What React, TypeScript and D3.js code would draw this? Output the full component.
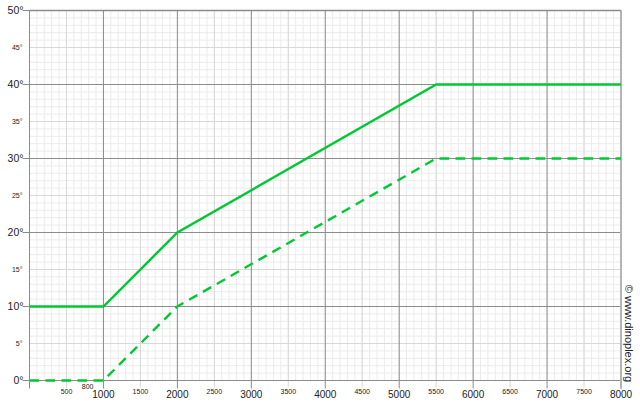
import React from 'react';
import * as d3 from 'd3';

// x values (rpm-like) and degrees for the two curves
const xPoints = [0, 1000, 2000, 5500, 8000];
const solidValues = [10, 10, 20, 40, 40];
const dashedValues = [0, 0, 10, 30, 30];

const majorXTicks = [1000, 2000, 3000, 4000, 5000, 6000, 7000, 8000];
const midXTicks = [500, 1500, 2500, 3500, 4500, 5500, 6500, 7500];
const extraXLabel = [800];
const majorYTicks = [0, 10, 20, 30, 40, 50];
const midYTicks = [5, 15, 25, 35, 45];

const W = 640;
const H = 412;
const margin = { top: 10.5, right: 19, bottom: 31.5, left: 29.5 };

const App: React.FC = () => {
  const x = d3.scaleLinear().domain([0, 8000]).range([margin.left, W - margin.right]);
  const y = d3.scaleLinear().domain([0, 50]).range([H - margin.bottom, margin.top]);

  const minorX = d3.range(0, 8001, 100);
  const minorY = d3.range(0, 51, 1);

  const line = d3.line<number>()
    .x((_, i) => x(xPoints[i]))
    .y(d => y(d));

  const green = '#00c832';
  const font = 'Helvetica, Arial, "Liberation Sans", sans-serif';
  const x0 = x(0), x1 = x(8000), yb = y(0), yt = y(50);

  return (
    <svg width={W} height={H} style={{ position: 'absolute', left: 0, top: 0, background: '#fff' }} fontFamily={font}>
      {/* minor grid */}
      {minorX.map(v => (
        <line key={'mx' + v} x1={x(v)} x2={x(v)} y1={yt} y2={yb} stroke="#ebebeb" strokeWidth={1} />
      ))}
      {minorY.map(v => (
        <line key={'my' + v} x1={x0} x2={x1} y1={y(v)} y2={y(v)} stroke="#ebebeb" strokeWidth={1} />
      ))}
      {/* mid grid */}
      {midXTicks.map(v => (
        <line key={'dx' + v} x1={x(v)} x2={x(v)} y1={yt} y2={yb + 7} stroke="#d8d8d8" strokeWidth={1} />
      ))}
      {midYTicks.map(v => (
        <line key={'dy' + v} x1={x0} x2={x1} y1={y(v)} y2={y(v)} stroke="#d8d8d8" strokeWidth={1} />
      ))}
      {/* major grid */}
      {[0, ...majorXTicks].map(v => (
        <line key={'Mx' + v} x1={x(v)} x2={x(v)} y1={yt} y2={yb + 8} stroke="#8c8c8c" strokeWidth={1} />
      ))}
      {majorYTicks.map(v => (
        <line key={'My' + v} x1={x0 - 7} x2={x1} y1={y(v)} y2={y(v)} stroke="#8c8c8c" strokeWidth={1} />
      ))}
      <line x1={x1} x2={x1} y1={yt} y2={yb + 8} stroke="#b4b4b4" strokeWidth={2} />
      <line x1={x0} x2={x1} y1={yt} y2={yt} stroke="#8c8c8c" strokeWidth={1.5} />

      {/* curves */}
      <path d={line(solidValues) || ''} fill="none" stroke={green} strokeWidth={2.4} />
      <path d={line(dashedValues) || ''} fill="none" stroke={green} strokeWidth={2.4} strokeDasharray="9.5,6.5" />

      {/* y labels */}
      {majorYTicks.map(v => (
        <text key={'ly' + v} x={x0 - 6} y={y(v) + 3.5} fontSize={10.5} textAnchor="end" fill="#222">{v}°</text>
      ))}
      {midYTicks.map(v => (
        <text key={'lm' + v} x={x0 - 7} y={y(v) + 2.5} fontSize={7} textAnchor="end" fill="#222">{v}°</text>
      ))}

      {/* x labels */}
      {majorXTicks.map(v => (
        <text key={'lx' + v} x={x(v)} y={yb + 17} fontSize={10} textAnchor="middle" fill="#222">{v}</text>
      ))}
      {midXTicks.map(v => (
        <text key={'lxm' + v} x={x(v)} y={yb + 13.5} fontSize={7} textAnchor="middle" fill="#222">{v}</text>
      ))}
      {extraXLabel.map(v => (
        <text key={'le' + v} x={x(v) - 1} y={yb + 8.5} fontSize={7} textAnchor="middle" fill="#222">{v}</text>
      ))}

      {/* watermark */}
      <text transform={`translate(624.5, ${yb - 47}) rotate(90)`} fontSize={11} textAnchor="middle" fill="#222">© www.dinoplex.org</text>
    </svg>
  );
};

export default App;
